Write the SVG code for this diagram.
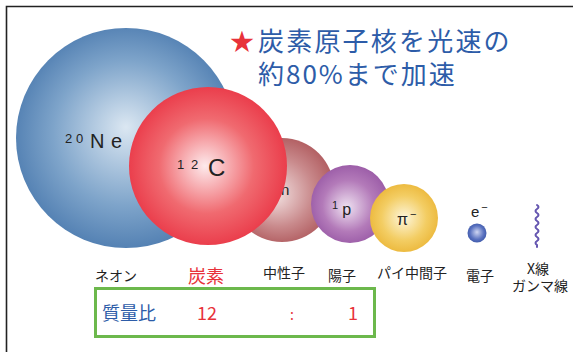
<svg xmlns="http://www.w3.org/2000/svg" width="573" height="352" viewBox="0 0 573 352">
  <style>
    .jp { font-family: "Noto Sans CJK JP", "Noto Sans", sans-serif; }
    .lat { font-family: "Liberation Sans", Arial, sans-serif; fill: #222; }
    .lbl { font-size: 14px; fill: #222; }
    .blue { fill: #2d5ca8; }
    .red { fill: #e8323a; }
  </style>
  <defs>
    <radialGradient id="gNe" cx="0.5" cy="0.5" r="0.6" fx="0.5" fy="0.45">
      <stop offset="0" stop-color="#dbe7f2"/>
      <stop offset="0.55" stop-color="#7ea4ca"/>
      <stop offset="1" stop-color="#3f70a8"/>
    </radialGradient>
    <radialGradient id="gC" cx="0.5" cy="0.5" r="0.6" fx="0.48" fy="0.5">
      <stop offset="0" stop-color="#fdeaec"/>
      <stop offset="0.5" stop-color="#f06a70"/>
      <stop offset="1" stop-color="#e8283a"/>
    </radialGradient>
    <radialGradient id="gN" cx="0.5" cy="0.5" r="0.6" fx="0.42" fy="0.55">
      <stop offset="0" stop-color="#f4e4e4"/>
      <stop offset="0.55" stop-color="#c98a8c"/>
      <stop offset="1" stop-color="#a84c50"/>
    </radialGradient>
    <radialGradient id="gP" cx="0.5" cy="0.5" r="0.6" fx="0.45" fy="0.55">
      <stop offset="0" stop-color="#efe2f1"/>
      <stop offset="0.55" stop-color="#b37ab9"/>
      <stop offset="1" stop-color="#9150a0"/>
    </radialGradient>
    <radialGradient id="gPi" cx="0.5" cy="0.5" r="0.6" fx="0.5" fy="0.5">
      <stop offset="0" stop-color="#fdf6dc"/>
      <stop offset="0.55" stop-color="#f3cd63"/>
      <stop offset="1" stop-color="#e9b02c"/>
    </radialGradient>
    <radialGradient id="gE" cx="0.5" cy="0.5" r="0.6" fx="0.5" fy="0.45">
      <stop offset="0" stop-color="#cfd6f2"/>
      <stop offset="0.6" stop-color="#5a72c0"/>
      <stop offset="1" stop-color="#324ea0"/>
    </radialGradient>
  </defs>

  <rect width="573" height="352" fill="#ffffff"/>
  <!-- outer frame (runs off the right and bottom edges) -->
  <path d="M6.5 352 V6.5 H573" fill="none" stroke="#222" stroke-width="1.6"/>

  <!-- heading -->
  <g id="title">
    <text x="230" y="50" class="jp red" font-size="24">★</text>
    <text x="258" y="51" class="jp blue" font-size="26" letter-spacing="2.2">炭素原子核を光速の</text>
    <text x="258" y="84" class="jp blue" font-size="26" letter-spacing="2">約80%まで加速</text>
  </g>

  <g id="neon">
    <circle cx="126" cy="138" r="110" fill="url(#gNe)"/>
    <text y="148" class="lat"><tspan x="65" font-size="13" dy="-5">2</tspan><tspan x="76" font-size="13">0</tspan><tspan x="90" font-size="20" dy="5">N</tspan><tspan x="111" font-size="20">e</tspan></text>
  </g>

  <g id="neutron">
    <circle cx="282" cy="190" r="52" fill="url(#gN)"/>
    <text x="281" y="195" class="lat" font-size="15">n</text>
  </g>

  <g id="carbon">
    <circle cx="208" cy="166" r="79" fill="url(#gC)"/>
    <text y="176" class="lat"><tspan x="177" font-size="13" dy="-7">1</tspan><tspan x="191" font-size="13">2</tspan><tspan x="208" font-size="24" dy="7">C</tspan></text>
  </g>

  <g id="proton">
    <circle cx="350" cy="204" r="39" fill="url(#gP)"/>
    <text x="332" y="215" class="lat"><tspan font-size="11" dy="-6" letter-spacing="4">1</tspan><tspan font-size="16" dy="6">p</tspan></text>
  </g>

  <g id="pion">
    <circle cx="404" cy="218" r="34" fill="url(#gPi)"/>
    <text x="397" y="225" class="lat"><tspan font-size="16">π</tspan><tspan font-size="11" dy="-7" dx="2">−</tspan></text>
  </g>

  <g id="electron">
    <circle cx="477" cy="233" r="9.5" fill="url(#gE)"/>
    <text x="471" y="217" class="lat"><tspan font-size="15">e</tspan><tspan font-size="11" dy="-6" dx="2">−</tspan></text>
  </g>

  <g id="xray">
    <path d="M537 205 q3 2 0 4 q-3 2 0 4 q3 2 0 4 q-3 2 0 4 q3 2 0 4 q-3 2 0 4 q3 2 0 4 q-3 2 0 4 q3 2 0 4 q-3 2 0 4 l0 2" fill="none" stroke="#6556b0" stroke-width="2" stroke-linecap="round"/>
  </g>

  <!-- particle names -->
  <g id="labels" class="jp">
    <text x="95" y="281" class="lbl">ネオン</text>
    <text x="188" y="283" class="red" font-size="18">炭素</text>
    <text x="263" y="278" class="lbl">中性子</text>
    <text x="328" y="281" class="lbl">陽子</text>
    <text x="377" y="278" class="lbl">パイ中間子</text>
    <text x="466" y="281" class="lbl">電子</text>
    <text x="527" y="274" class="lbl">X線</text>
    <text x="512" y="291" class="lbl">ガンマ線</text>
  </g>

  <!-- mass ratio box -->
  <g id="mass-ratio">
    <rect x="95.5" y="288.5" width="279" height="48" fill="none" stroke="#6cb84c" stroke-width="3"/>
    <text x="102" y="320" class="jp blue" font-size="18">質量比</text>
    <text x="197" y="320" class="jp red" font-size="18">12</text>
    <text x="290" y="320" class="jp red" font-size="14">:</text>
    <text x="348" y="320" class="jp red" font-size="18">1</text>
  </g>
</svg>
